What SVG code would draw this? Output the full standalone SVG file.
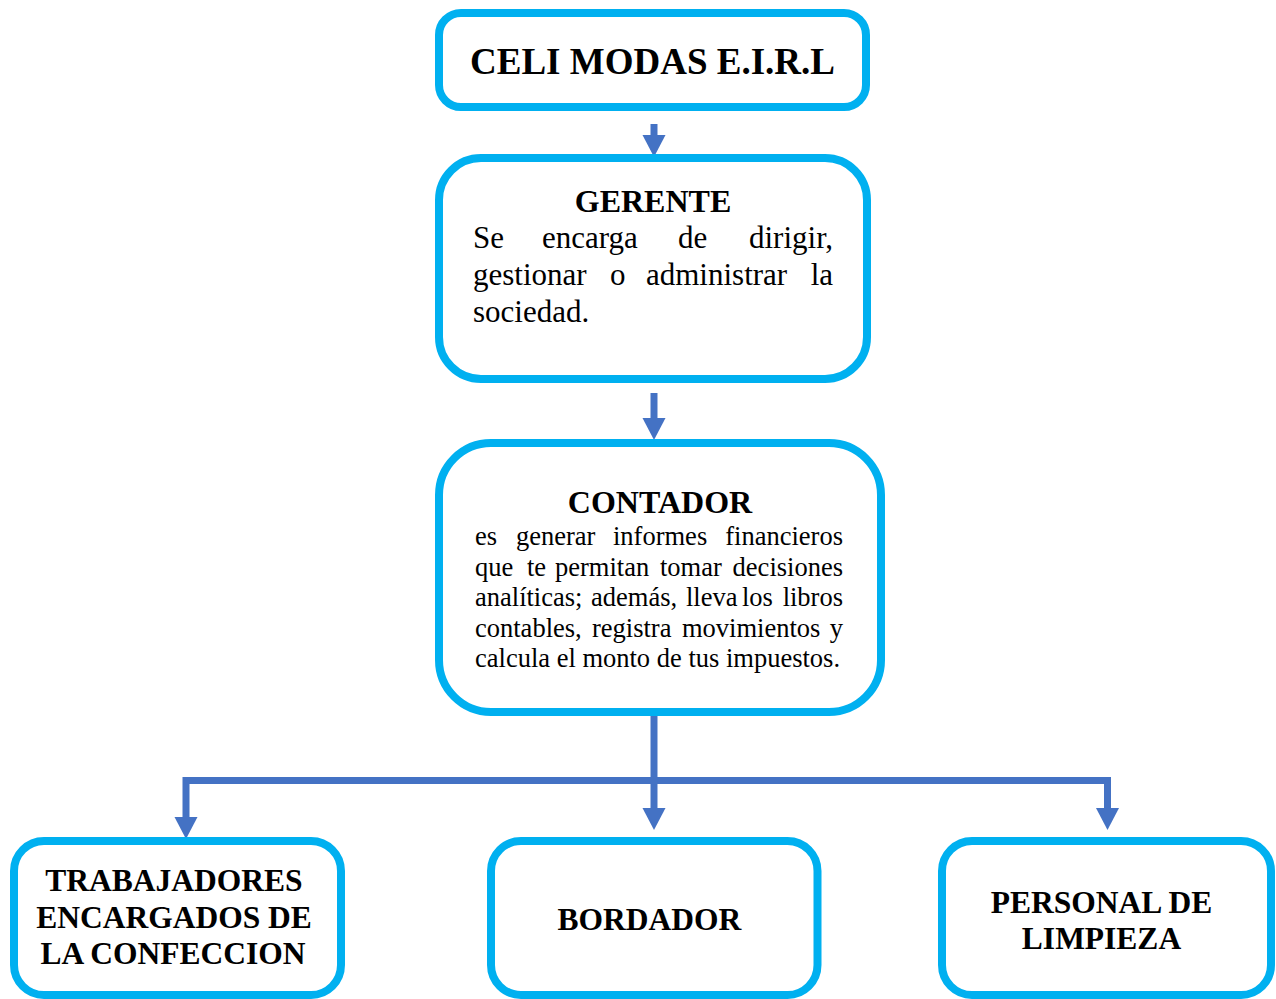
<svg xmlns="http://www.w3.org/2000/svg" width="1276" height="999" viewBox="0 0 1276 999">
<style>
.box{fill:#fff;stroke:#00B0F0;stroke-width:8}
.con{fill:none;stroke:#4472C4;stroke-width:7;stroke-linejoin:miter}
text{font-family:"Liberation Serif","Times New Roman",serif;fill:#000}
.t{font-weight:bold;text-anchor:middle}
.b{font-size:31px}
.c{font-size:26.5px}
</style>
<defs>
<marker id="ah" markerUnits="userSpaceOnUse" markerWidth="24" markerHeight="24" refX="1" refY="11.5" orient="auto">
<path d="M0,0 L22,11.5 L0,23 z" fill="#4472C4"/>
</marker>
</defs>
<rect width="1276" height="999" fill="#fff"/>
<g id="connectors">
<line class="con" x1="654" y1="124" x2="654" y2="136" marker-end="url(#ah)"/>
<line class="con" x1="654" y1="393" x2="654" y2="419" marker-end="url(#ah)"/>
<line class="con" x1="654" y1="712" x2="654" y2="809" marker-end="url(#ah)"/>
<path class="con" d="M654,780.5 H186 V818" marker-end="url(#ah)"/>
<path class="con" d="M654,780.5 H1107.5 V809" marker-end="url(#ah)"/>
</g>
<g id="celi">
<rect class="box" x="439" y="13" width="427" height="94" rx="22"/>
<text class="t" x="652.5" y="74" font-size="37">CELI MODAS E.I.R.L</text>
</g>
<g id="gerente">
<rect class="box" x="439" y="158" width="428" height="221" rx="42"/>
<text class="t" x="653" y="212" font-size="32">GERENTE</text>
<text class="b" y="248"><tspan x="473">Se</tspan><tspan x="542">encarga</tspan><tspan x="678">de</tspan><tspan x="833" text-anchor="end">dirigir,</tspan></text>
<text class="b" y="285"><tspan x="473">gestionar</tspan><tspan x="610">o</tspan><tspan x="646">administrar</tspan><tspan x="833" text-anchor="end">la</tspan></text>
<text class="b" y="322" x="473">sociedad.</text>
</g>
<g id="contador">
<rect class="box" x="439" y="443" width="442" height="269" rx="52"/>
<text class="t" x="660" y="513" font-size="32">CONTADOR</text>
<text class="c" y="545"><tspan x="475">es</tspan><tspan x="516">generar</tspan><tspan x="613">informes</tspan><tspan x="843" text-anchor="end">financieros</tspan></text>
<text class="c" y="576"><tspan x="475">que</tspan><tspan x="527">te</tspan><tspan x="555">permitan</tspan><tspan x="660">tomar</tspan><tspan x="843" text-anchor="end">decisiones</tspan></text>
<text class="c" y="606"><tspan x="475">analíticas;</tspan><tspan x="591">además,</tspan><tspan x="686">lleva</tspan><tspan x="742">los</tspan><tspan x="843" text-anchor="end">libros</tspan></text>
<text class="c" y="637"><tspan x="475">contables,</tspan><tspan x="592">registra</tspan><tspan x="682">movimientos</tspan><tspan x="843" text-anchor="end">y</tspan></text>
<text class="c" y="667" x="475">calcula el monto de tus impuestos.</text>
</g>
<g id="trabajadores">
<rect class="box" x="14" y="841" width="327" height="154" rx="30"/>
<text class="t" font-size="31.5" x="174" y="891">TRABAJADORES</text>
<text class="t" font-size="31.5" x="174" y="928">ENCARGADOS DE</text>
<text class="t" font-size="31.5" x="173" y="964">LA CONFECCION</text>
</g>
<g id="bordador">
<rect class="box" x="491" y="841" width="326.5" height="154" rx="30"/>
<text class="t" font-size="31.5" x="649.5" y="930">BORDADOR</text>
</g>
<g id="limpieza">
<rect class="box" x="942" y="841" width="329" height="154" rx="30"/>
<text class="t" font-size="31.5" x="1101.5" y="913">PERSONAL DE</text>
<text class="t" font-size="31.5" x="1101.5" y="949">LIMPIEZA</text>
</g>
</svg>
